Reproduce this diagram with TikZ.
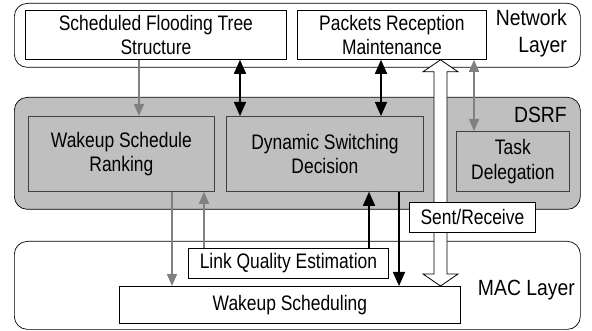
\documentclass[tikz,border=0pt]{standalone}
\usepackage{fontspec}
\setmainfont{Liberation Sans}[FakeStretch=0.83]
\newfontfamily\layerfont{Liberation Sans}[FakeStretch=0.88]
\usetikzlibrary{arrows.meta,calc}
\begin{document}
\begin{tikzpicture}[x=1pt,y=-1pt,
    layer/.style={draw,line width=0.7pt,rounded corners=13pt,anchor=north west,inner sep=0pt},
    unit/.style={draw,line width=0.8pt,anchor=north west,inner sep=0pt,align=center,
        font=\fontsize{21}{24.5}\selectfont},
    inunit/.style={unit,draw=black!75,fill=black!25},
    lname/.style={inner sep=0pt,align=right,font=\layerfont\fontsize{22}{27.5}\selectfont},
    blk/.style={line width=1.6pt,{Triangle[width=12pt,length=14pt]}-{Triangle[width=12pt,length=14pt]}},
    blkone/.style={line width=1.6pt,-{Triangle[width=12pt,length=14pt]}},
    gry/.style={gray,line width=1.4pt,{Triangle[width=10pt,length=12pt]}-{Triangle[width=10pt,length=12pt]}},
    gryone/.style={gray,line width=1.4pt,-{Triangle[width=10pt,length=12pt]}}]
    \useasboundingbox (0,0) rectangle (592,331);
    % layers
    \node[layer,minimum width=566pt,minimum height=64pt] (net) at (14,3) {};
    \node[layer,fill=black!25,minimum width=566pt,minimum height=112pt] (dsrf) at (14,97) {};
    \node[layer,minimum width=566pt,minimum height=88pt] (mac) at (14,241) {};
    \node[lname,anchor=north east] (netname) at (567,9) {Network\\Layer};
    \node[lname,anchor=base east] (dsrfname) at (567,123) {DSRF};
    \node[lname,anchor=base east] (macname) at (575,295) {MAC Layer};
    % units
    \node[unit,minimum width=261pt,minimum height=49pt] (sfts) at (25,10) {Scheduled Flooding Tree\\Structure};
    \node[unit,minimum width=189pt,minimum height=49pt] (prm) at (297,10) {Packets Reception\\Maintenance};
    \node[inunit,minimum width=186pt,minimum height=75pt] (wsr) at (28,116) {Wakeup Schedule\\Ranking};
    \node[inunit,minimum width=197pt,minimum height=75pt] (dsd) at (226,116) {Dynamic Switching\\Decision};
    \node[inunit,minimum width=113pt,minimum height=60pt] (td) at (456,131) {Task\\Delegation};
    \node[unit,fill=white,minimum width=200pt,minimum height=30pt] (lqe) at (188,248) {Link Quality Estimation};
    \node[unit,fill=white,minimum width=341pt,minimum height=37pt] (ws) at (119,286) {Wakeup Scheduling};
    % links
    \draw[gryone] (139,0 |- sfts.south) -- (139,0 |- wsr.north);
    \draw[blk] (240,0 |- sfts.south) -- (240,0 |- dsd.north);
    \draw[blk] (381,0 |- prm.south) -- (381,0 |- dsd.north);
    \draw[gry] (474,0 |- prm.south) -- (474,0 |- td.north);
    \draw[gryone] (172,0 |- wsr.south) -- (172,0 |- ws.north);
    \draw[gryone] (204,0 |- lqe.north) -- (204,0 |- wsr.south);
    \draw[blkone] (369,0 |- lqe.north) -- (369,0 |- dsd.south);
    \draw[blkone] (399,0 |- dsd.south) -- (399,0 |- ws.north);
    % sent/receive
    \coordinate (sra) at (440.5,0 |- prm.south);
    \coordinate (srb) at (440.5,0 |- ws.north);
    \draw[fill=white,line width=0.8pt] (sra) -- ++(17.5,12) -- ++(-11,0) -- ($(srb)+(6.5,-12)$)
        -- ++(11,0) -- (srb) -- ++(-17.5,-12) -- ++(11,0) -- ($(sra)+(-6.5,12)$) -- ++(-11,0) -- cycle;
    \node[unit,fill=white,minimum width=126pt,minimum height=30pt] (sr) at (409,202) {Sent/Receive};
\end{tikzpicture}
\end{document}
